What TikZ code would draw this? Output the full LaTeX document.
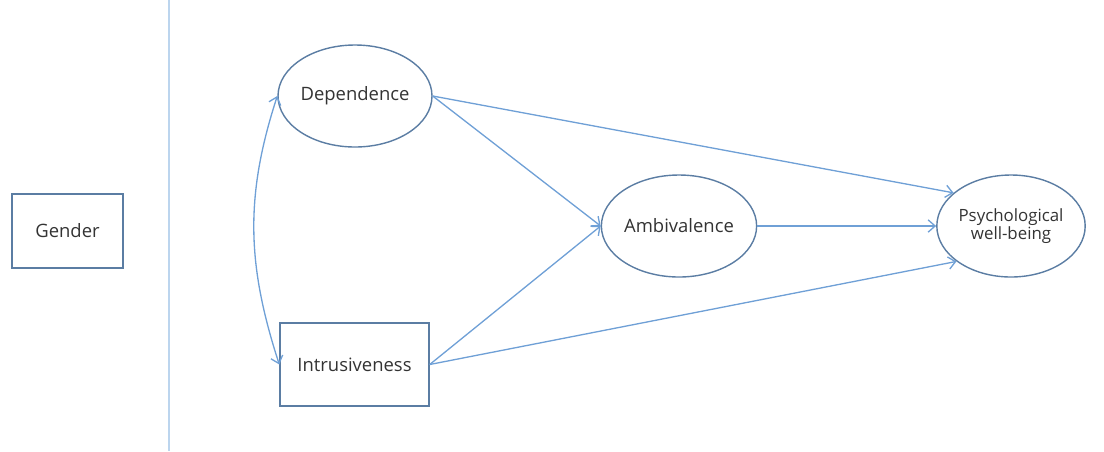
\documentclass[tikz,border=0pt]{standalone}
\usepackage{fontspec}
\setsansfont{Open Sans}
\usetikzlibrary{shapes.geometric,arrows.meta}
\definecolor{rim}{HTML}{5B7DA3}
\definecolor{link}{HTML}{6FA0D6}
\definecolor{divider}{HTML}{BCD5EE}
\definecolor{ink}{HTML}{333333}

\begin{document}
\begin{tikzpicture}[x=0.02cm, y=-0.02cm, font=\sffamily\fontsize{10.5}{12}\selectfont,
  every node/.style={text=ink},
  latent/.style={ellipse, draw=rim, line width=0.8pt, inner sep=0pt,
    minimum width=150*0.02cm, minimum height=102*0.02cm},
  observed/.style={rectangle, draw=rim, line width=0.8pt, inner sep=0pt},
  path arrow/.style={draw=link, line width=0.75pt,
    -{Straight Barb[length=4pt,width=7pt]}}]
  \useasboundingbox (0,0) rectangle (1104,451);

  % Control variable and the line that sets it apart.
  \node[observed, minimum width=111*0.02cm, minimum height=74*0.02cm] (gender) at (67.5,231) {Gender};
  \draw[divider, line width=1.2pt] (169,0) -- (169,451);

  % Predictors, mediator and outcome.
  \node[latent] (dep) at (355,96) {Dependence};
  \node[observed, minimum width=149*0.02cm, minimum height=83*0.02cm] (intr) at (354.5,364.5) {Intrusiveness};
  \node[latent, minimum width=148*0.02cm] (amb) at (679,226) {Ambivalence};
  \node[latent, minimum width=148*0.02cm, align=center,
    font=\sffamily\fontsize{9.6}{10.5}\selectfont] (psy) at (1011,226) {Psychological\\well-being};

  % Paths.
  \draw[path arrow, {Straight Barb[length=4pt,width=7pt]}-{Straight Barb[length=4pt,width=7pt]}]
    (dep.west) to[out=-108, in=108] (intr.west);
  \draw[path arrow] (dep.east) -- (amb.west);
  \draw[path arrow] (intr.east) -- (amb.west);
  \draw[path arrow] (dep.east) -- (psy.150);
  \draw[path arrow] (intr.east) -- (psy.213);
  \draw[path arrow] (amb.east) -- (psy.west);
\end{tikzpicture}
\end{document}
